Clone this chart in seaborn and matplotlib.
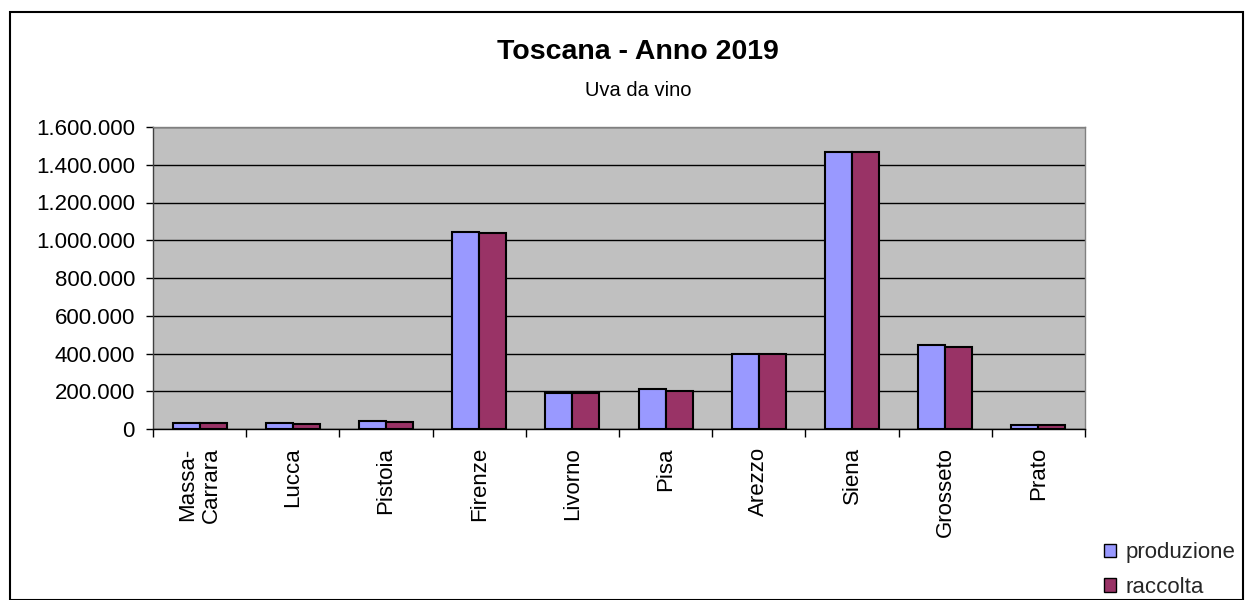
import matplotlib
matplotlib.use("Agg")
import matplotlib.pyplot as plt
import seaborn as sns
import pandas as pd
from matplotlib.ticker import FuncFormatter, FixedLocator
from matplotlib.patches import Rectangle

provinces = ["Massa-\nCarrara", "Lucca", "Pistoia", "Firenze", "Livorno", "Pisa",
             "Arezzo", "Siena", "Grosseto", "Prato"]
produzione = [31000, 30000, 40000, 1042000, 193000, 213000, 397000, 1465000, 445000, 20000]
raccolta = [30000, 29000, 39000, 1040000, 192000, 203000, 396000, 1465000, 434000, 19000]
series_names = ["produzione", "raccolta"]
colors = ["#9999FF", "#993366"]
y_ticks = [0, 200000, 400000, 600000, 800000, 1000000, 1200000, 1400000, 1600000]

df = pd.DataFrame({
    "provincia": provinces * 2,
    "valore": produzione + raccolta,
    "serie": [series_names[0]] * len(provinces) + [series_names[1]] * len(provinces),
})

sns.set_theme(style="white")
plt.rcParams["font.family"] = ["Liberation Sans", "DejaVu Sans"]

fig = plt.figure(figsize=(12.45, 6.0), dpi=100)
ax = fig.add_axes([153 / 1245, 1 - 429 / 600, (1085 - 153) / 1245, (429 - 127) / 600])
ax.set_facecolor("#C0C0C0")

sns.barplot(data=df, x="provincia", y="valore", hue="serie", palette=colors,
            width=0.58, gap=0, edgecolor="black", linewidth=1.5, ax=ax,
            legend=True, saturation=1)

ax.set_ylim(0, 1600000)
ax.set_xlim(-0.5, len(provinces) - 0.5)
ax.yaxis.set_major_locator(FixedLocator(y_ticks))
ax.yaxis.set_major_formatter(FuncFormatter(lambda v, p: f"{int(v):,}".replace(",", ".")))
ax.grid(axis="y", color="black", linewidth=1)
ax.set_axisbelow(True)
ax.set_xlabel("")
ax.set_ylabel("")

ax.tick_params(axis="y", which="major", length=5, width=1, color="black", labelsize=16,
               pad=8, left=True, labelcolor="black")
ax.tick_params(axis="x", which="major", length=0, labelsize=16, pad=13, labelcolor="black")
ax.set_xticks(range(len(provinces)))
ax.set_xticklabels(provinces, rotation=90, va="top", ha="center", multialignment="center")
ax.set_xticks([i - 0.5 for i in range(len(provinces) + 1)], minor=True)
ax.tick_params(axis="x", which="minor", length=6, width=1, color="black", bottom=True)

for side in ["top", "right"]:
    ax.spines[side].set_color("#808080")
    ax.spines[side].set_linewidth(1)
ax.spines["left"].set_color("#404040")
ax.spines["bottom"].set_color("black")
ax.spines["left"].set_linewidth(1)
ax.spines["bottom"].set_linewidth(1)

leg = ax.legend(loc="center left", bbox_to_anchor=(1104 / 1245, 1 - 570 / 600),
                bbox_transform=fig.transFigure, frameon=False, fontsize=16,
                borderpad=0, borderaxespad=0,
                handlelength=0.55, handleheight=0.55, handletextpad=0.4, labelspacing=0.6)
for h in leg.legend_handles:
    h.set_edgecolor("black")
    h.set_linewidth(1)

fig.text(638 / 1245, 1 - 52 / 600, "Toscana - Anno 2019", ha="center", va="center",
         fontsize=20.5, fontweight="bold", color="black")
fig.text(638 / 1245, 1 - 90 / 600, "Uva da vino", ha="center", va="center", fontsize=14.5,
         color="black")

fig.patches.append(Rectangle((10 / 1245, 0), (1243 - 10) / 1245, 1 - 12 / 600,
                             transform=fig.transFigure, fill=False, edgecolor="black",
                             linewidth=1.5))

fig.savefig("out.png", dpi=100)
